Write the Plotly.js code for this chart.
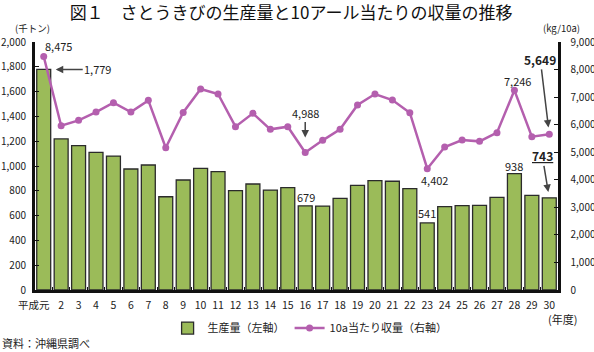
<!DOCTYPE html>
<html>
<head>
<meta charset="utf-8">
<script src="https://cdn.plot.ly/plotly-3.0.1.min.js"></script>
<style>html,body{margin:0;padding:0;background:#fff;}#chart{width:594px;height:352px;}</style>
</head>
<body>
<div id="chart"></div>
<script>
// Fiscal years (Heisei)
const years = ['平成元','2','3','4','5','6','7','8','9','10','11','12','13','14','15','16','17','18','19','20','21','22','23','24','25','26','27','28','29','30'];
// Production (thousand tonnes), left axis
const production = [1779,1218,1164,1110,1080,976,1008,752,887,981,954,801,855,806,825,679,677,739,844,882,877,817,541,672,680,683,747,938,763,743];
// Yield per 10a (kg/10a), right axis
const yieldPer10a = [8475,5962,6157,6458,6797,6458,6882,5164,6446,7293,7112,5926,6410,5830,5926,4988,5431,5830,6712,7112,6894,6434,4402,5190,5442,5394,5708,7246,5563,5649];
// first label is drawn slightly left of its tick (as in the original), so it is placed as an annotation
const yearTickText = years.map((y, i) => i === 0 ? '' : y);

const FONT = '"Noto Sans CJK JP", "Noto Sans", sans-serif';

const traces = [
  {
    type: 'bar', x: years, y: production, name: '生産量（左軸）',
    marker: {color: '#9bbb59', line: {color: '#2b2b2b', width: 1.3}},
    yaxis: 'y'
  },
  {
    type: 'scatter', mode: 'lines+markers', x: years, y: yieldPer10a, name: '10a当たり収量（右軸）',
    line: {color: '#b45fae', width: 2.5},
    marker: {color: '#b45fae', size: 7},
    yaxis: 'y2'
  }
];

// category index helper (category axes take index positions for annotations)
const idx = y => years.indexOf(y);
const ann = [];
ann.push({x: 0, y: 0, yref: 'paper', text: years[0], showarrow: false, xshift: -10, yshift: -14, xanchor: 'center', yanchor: 'middle', font: {size: 10.5}});
ann.push({x: idx('平成元'), y: yieldPer10a[idx('平成元')], yref: 'y2', text: '8,475', showarrow: false, xshift: 15, yshift: 10, font: {size: 11}});
ann.push({x: idx('平成元'), y: production[idx('平成元')], yref: 'y', text: '1,779', showarrow: true, arrowhead: 2, arrowwidth: 1.5, arrowsize: 1, ax: 42, ay: 0, xshift: 12, font: {size: 11}});
ann.push({x: idx('16'), y: yieldPer10a[idx('16')], yref: 'y2', text: '4,988', showarrow: true, arrowhead: 2, arrowwidth: 1.5, arrowsize: 1, ax: 0, ay: -40, standoff: 15, font: {size: 11}});
ann.push({x: idx('16'), y: production[idx('16')], yref: 'y', text: '679', showarrow: false, yshift: 9, xshift: 1, font: {size: 11}});
ann.push({x: idx('23'), y: yieldPer10a[idx('23')], yref: 'y2', text: '4,402', showarrow: false, xshift: 7, yshift: -11, font: {size: 11}});
ann.push({x: idx('23'), y: production[idx('23')], yref: 'y', text: '541', showarrow: false, yshift: 10, font: {size: 11}});
ann.push({x: idx('28'), y: yieldPer10a[idx('28')], yref: 'y2', text: '7,246', showarrow: false, xshift: 3, yshift: 9, font: {size: 11}});
ann.push({x: idx('28'), y: production[idx('28')], yref: 'y', text: '938', showarrow: false, yshift: 8, font: {size: 11}});
ann.push({x: idx('30'), y: yieldPer10a[idx('30')], yref: 'y2', text: '<b>5,649</b>', showarrow: true, arrowhead: 2, arrowwidth: 1.5, arrowsize: 1, ax: -9, ay: -75, standoff: 7, font: {size: 12}});
ann.push({x: idx('30'), y: production[idx('30')], yref: 'y', text: '<b><u>743</u></b>', showarrow: true, arrowhead: 2, arrowwidth: 1.5, arrowsize: 1, ax: -7, ay: -42, standoff: 6, font: {size: 12}});
ann.push({xref: 'paper', yref: 'paper', x: -0.004, y: 1.057, xanchor: 'center', yanchor: 'middle', text: '(千トン)', showarrow: false, font: {size: 9.5}});
ann.push({xref: 'paper', yref: 'paper', x: 1.006, y: 1.055, xanchor: 'center', yanchor: 'middle', text: '(kg/10a)', showarrow: false, font: {size: 9.5}});
ann.push({xref: 'paper', yref: 'paper', x: 1.008, y: -0.116, xanchor: 'center', yanchor: 'middle', text: '(年度)', showarrow: false, font: {size: 11}});
ann.push({xref: 'paper', yref: 'paper', x: -0.067, xanchor: 'left', yanchor: 'middle', y: -0.214, text: '資料：沖縄県調べ', showarrow: false, font: {size: 11}});

const layout = {
  width: 594, height: 352,
  margin: {l: 35, r: 36, t: 42, b: 62, pad: 0, autoexpand: false},
  paper_bgcolor: '#fff', plot_bgcolor: '#fff',
  font: {family: FONT, size: 11, color: '#222'},
  title: {text: '図１　さとうきびの生産量と10アール当たりの収量の推移', x: 0.49, xanchor: 'center', y: 0.962, yanchor: 'middle', font: {size: 17, color: '#111', family: FONT}},
  showlegend: true,
  legend: {orientation: 'h', x: 0.526, xanchor: 'center', y: -0.095, yanchor: 'top', font: {size: 11}, itemwidth: 30, tracegroupgap: 0},
  bargap: 0.2,
  xaxis: {
    type: 'category', tickvals: years, ticktext: yearTickText, automargin: false,
    range: [-0.5, years.length - 0.5], autorange: false,
    showline: true, linecolor: '#111', linewidth: 3,
    ticks: 'inside', ticklen: 3, tickcolor: '#111', tickson: 'boundaries',
    showgrid: false, zeroline: false, tickangle: 0, ticklabelstandoff: 3,
    tickfont: {size: 10.5}
  },
  yaxis: {
    range: [0, 2000], autorange: false, dtick: 200, tickformat: ',d', automargin: false,
    showline: true, linecolor: '#111', linewidth: 3,
    ticks: 'inside', ticklen: 4, tickcolor: '#111',
    showgrid: false, zeroline: false, ticklabelstandoff: 4,
    tickfont: {size: 10}
  },
  yaxis2: {
    range: [0, 9000], autorange: false, dtick: 1000, tickformat: ',d', overlaying: 'y', side: 'right', automargin: false,
    showline: true, linecolor: '#111', linewidth: 2.5,
    ticks: 'inside', ticklen: 4, tickcolor: '#111',
    showgrid: false, zeroline: false, ticklabelstandoff: 8,
    tickfont: {size: 10}
  },
  annotations: ann
};

Plotly.newPlot('chart', traces, layout, {staticPlot: true, displayModeBar: false});
</script>
</body>
</html>
